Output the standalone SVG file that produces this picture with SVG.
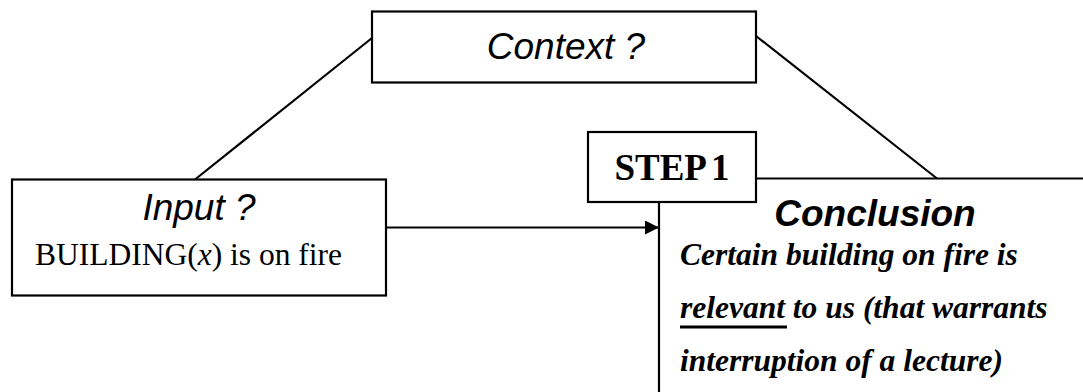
<svg xmlns="http://www.w3.org/2000/svg" width="1083" height="392" viewBox="0 0 1083 392">
  <style>
    .box { fill: #ffffff; stroke: #000000; stroke-width: 2.2; }
    .line { fill: none; stroke: #000000; stroke-width: 2.2; }
    .sans { font-family: "Liberation Sans", Arial, sans-serif; font-style: italic; font-size: 37px; fill: #000; }
    .serif { font-family: "Liberation Serif", "Times New Roman", serif; font-size: 31.5px; fill: #000; }
  </style>
  <defs>
    <marker id="arrow" viewBox="0 0 14 14" refX="14" refY="7" markerWidth="14" markerHeight="14" markerUnits="userSpaceOnUse" orient="auto">
      <path d="M0,0 L14,7 L0,14 Z" fill="#000"/>
    </marker>
  </defs>

  <rect width="1083" height="392" fill="#ffffff"/>

  <!-- connectors -->
  <g id="connectors">
    <line class="line" x1="372" y1="38" x2="195" y2="179.5"/>
    <line class="line" x1="756" y1="36" x2="937" y2="178.5"/>
    <line class="line" x1="386" y1="227.5" x2="659" y2="227.5" marker-end="url(#arrow)"/>
  </g>

  <!-- context -->
  <g id="context">
    <rect class="box" x="372" y="11.5" width="384" height="71"/>
    <text class="sans" x="566" y="59" text-anchor="middle">Context ?</text>
  </g>

  <!-- input -->
  <g id="input">
    <rect class="box" x="12" y="179.5" width="374" height="116"/>
    <text class="sans" x="199" y="220" text-anchor="middle">Input ?</text>
    <text class="serif" x="35" y="265">BUILDING(<tspan font-style="italic">x</tspan>) is on fire</text>
  </g>

  <!-- conclusion frame: open box running off the right and bottom edges -->
  <g id="conclusion">
    <path class="line" d="M659,203 L659,392 M756,178.5 L1083,178.5"/>
    <text x="875" y="226" text-anchor="middle" font-family="Liberation Sans, Arial, sans-serif" font-style="italic" font-weight="bold" font-size="37">Conclusion</text>
    <g class="serif" font-style="italic" font-weight="bold">
      <text x="680" y="265">Certain building on fire is</text>
      <text x="680" y="318">relevant to us (that warrants</text>
      <text x="680" y="371">interruption of a lecture)</text>
    </g>
    <line x1="680" y1="327" x2="787" y2="327" stroke="#000" stroke-width="3"/>
  </g>

  <!-- step label -->
  <g id="step1">
    <rect class="box" x="588" y="132" width="168" height="70"/>
    <text x="672" y="180" text-anchor="middle" font-family="Liberation Serif, Times New Roman, serif" font-weight="bold" font-size="37" word-spacing="-3">STEP 1</text>
  </g>
</svg>
